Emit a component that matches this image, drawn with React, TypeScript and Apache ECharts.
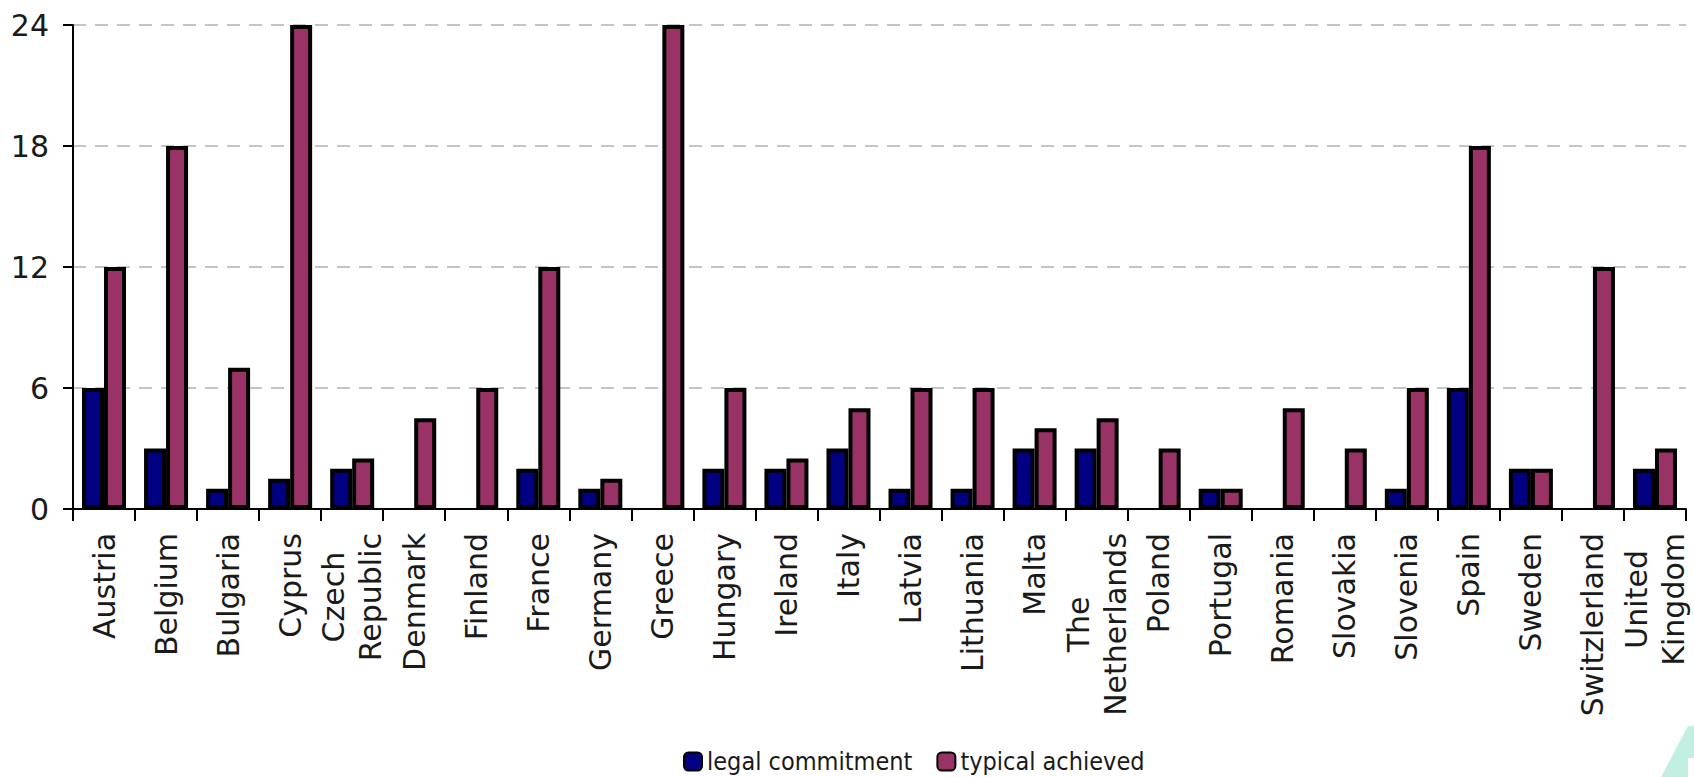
import React, { useEffect, useRef } from "react";
import * as echarts from "echarts";

const categories = [
  "Austria", "Belgium", "Bulgaria", "Cyprus", "Czech\nRepublic", "Denmark", "Finland", "France",
  "Germany", "Greece", "Hungary", "Ireland", "Italy", "Latvia", "Lithuania", "Malta",
  "The\nNetherlands", "Poland", "Portugal", "Romania", "Slovakia", "Slovenia", "Spain", "Sweden",
  "Switzlerland", "United\nKingdom",
];

const legalCommitment = [
  6, 3, 1, 1.5, 2, 0, 0, 2, 1, 0, 2, 2, 3, 1, 1, 3, 3, 0, 1, 0, 0, 1, 6, 2, 0, 2,
];

const typicalAchieved = [
  12, 18, 7, 24, 2.5, 4.5, 6, 12, 1.5, 24, 6, 2.5, 5, 6, 6, 4, 4.5, 3, 1, 5, 3, 6, 18, 2, 12, 3,
];

const yTicks = { min: 0, max: 24, interval: 6 };

const seriesNames = ["legal commitment", "typical achieved"];

export default function App() {
  const ref = useRef<HTMLDivElement>(null);

  useEffect(() => {
    if (!ref.current) return;
    const chart = echarts.init(ref.current, undefined, { renderer: "svg" });
    const font = "'DejaVu Sans', Verdana, sans-serif";
    const toData = (arr: number[]) => arr.map((v) => (v === 0 ? null : v));
    chart.setOption({
      animation: false,
      backgroundColor: "#ffffff",
      grid: { left: 73, right: 8, top: 25, bottom: 268, containLabel: false },
      legend: {
        left: 683,
        top: 748,
        padding: 0,
        itemWidth: 18,
        itemHeight: 18,
        itemGap: 24,
        icon: "roundRect",
        itemStyle: { borderColor: "#000", borderWidth: 2 },
        textStyle: {
          fontFamily: "'DejaVu Sans Condensed', 'Liberation Sans Narrow', sans-serif",
          fontSize: 25,
          lineHeight: 27,
          color: "#1a1a1a",
        },
        data: seriesNames,
      },
      xAxis: {
        type: "category",
        data: categories,
        boundaryGap: true,
        axisLine: { show: true, lineStyle: { color: "#000", width: 2 } },
        axisTick: { show: true, length: 12, lineStyle: { color: "#000", width: 2 } },
        axisLabel: {
          interval: 0,
          rotate: 90,
          margin: 24,
          fontFamily: font,
          fontSize: 30,
          lineHeight: 37,
          color: "#1a1a1a",
          formatter: (v: string) =>
            v.split("\n").map((s) => `{c|${s}}`).join("\n"),
          rich: {
            c: {
              align: "center",
              fontFamily: font,
              fontSize: 30,
              lineHeight: 37,
              color: "#1a1a1a",
            },
          },
        },
        splitLine: { show: false },
      },
      yAxis: {
        type: "value",
        min: yTicks.min,
        max: yTicks.max,
        interval: yTicks.interval,
        axisLine: { show: true, lineStyle: { color: "#000", width: 2 } },
        axisTick: { show: true, length: 10, lineStyle: { color: "#000", width: 2 } },
        axisLabel: {
          margin: 24,
          fontFamily: font,
          fontSize: 30,
          color: "#1a1a1a",
        },
        splitLine: {
          show: true,
          lineStyle: { color: "#c4c4c4", width: 2, type: [13, 9] },
        },
      },
      series: [
        {
          name: seriesNames[0],
          type: "bar",
          data: toData(legalCommitment),
          barWidth: 22,
          barGap: "0%",
          itemStyle: { color: "#000080", borderColor: "#000", borderWidth: 4 },
        },
        {
          name: seriesNames[1],
          type: "bar",
          data: toData(typicalAchieved),
          barWidth: 22,
          barGap: "0%",
          itemStyle: { color: "#993366", borderColor: "#000", borderWidth: 4 },
        },
      ],
      graphic: [
        {
          type: "polygon",
          silent: true,
          shape: {
            points: [
              [1661, 777],
              [1688, 726],
              [1694, 726],
              [1694, 758],
              [1688, 758],
              [1688, 777],
            ],
          },
          style: { fill: "#c3efe3" },
        },
      ],
    });
    return () => chart.dispose();
  }, []);

  return (
    <div
      ref={ref}
      style={{ position: "fixed", left: 0, top: 0, width: 1694, height: 777 }}
    />
  );
}
